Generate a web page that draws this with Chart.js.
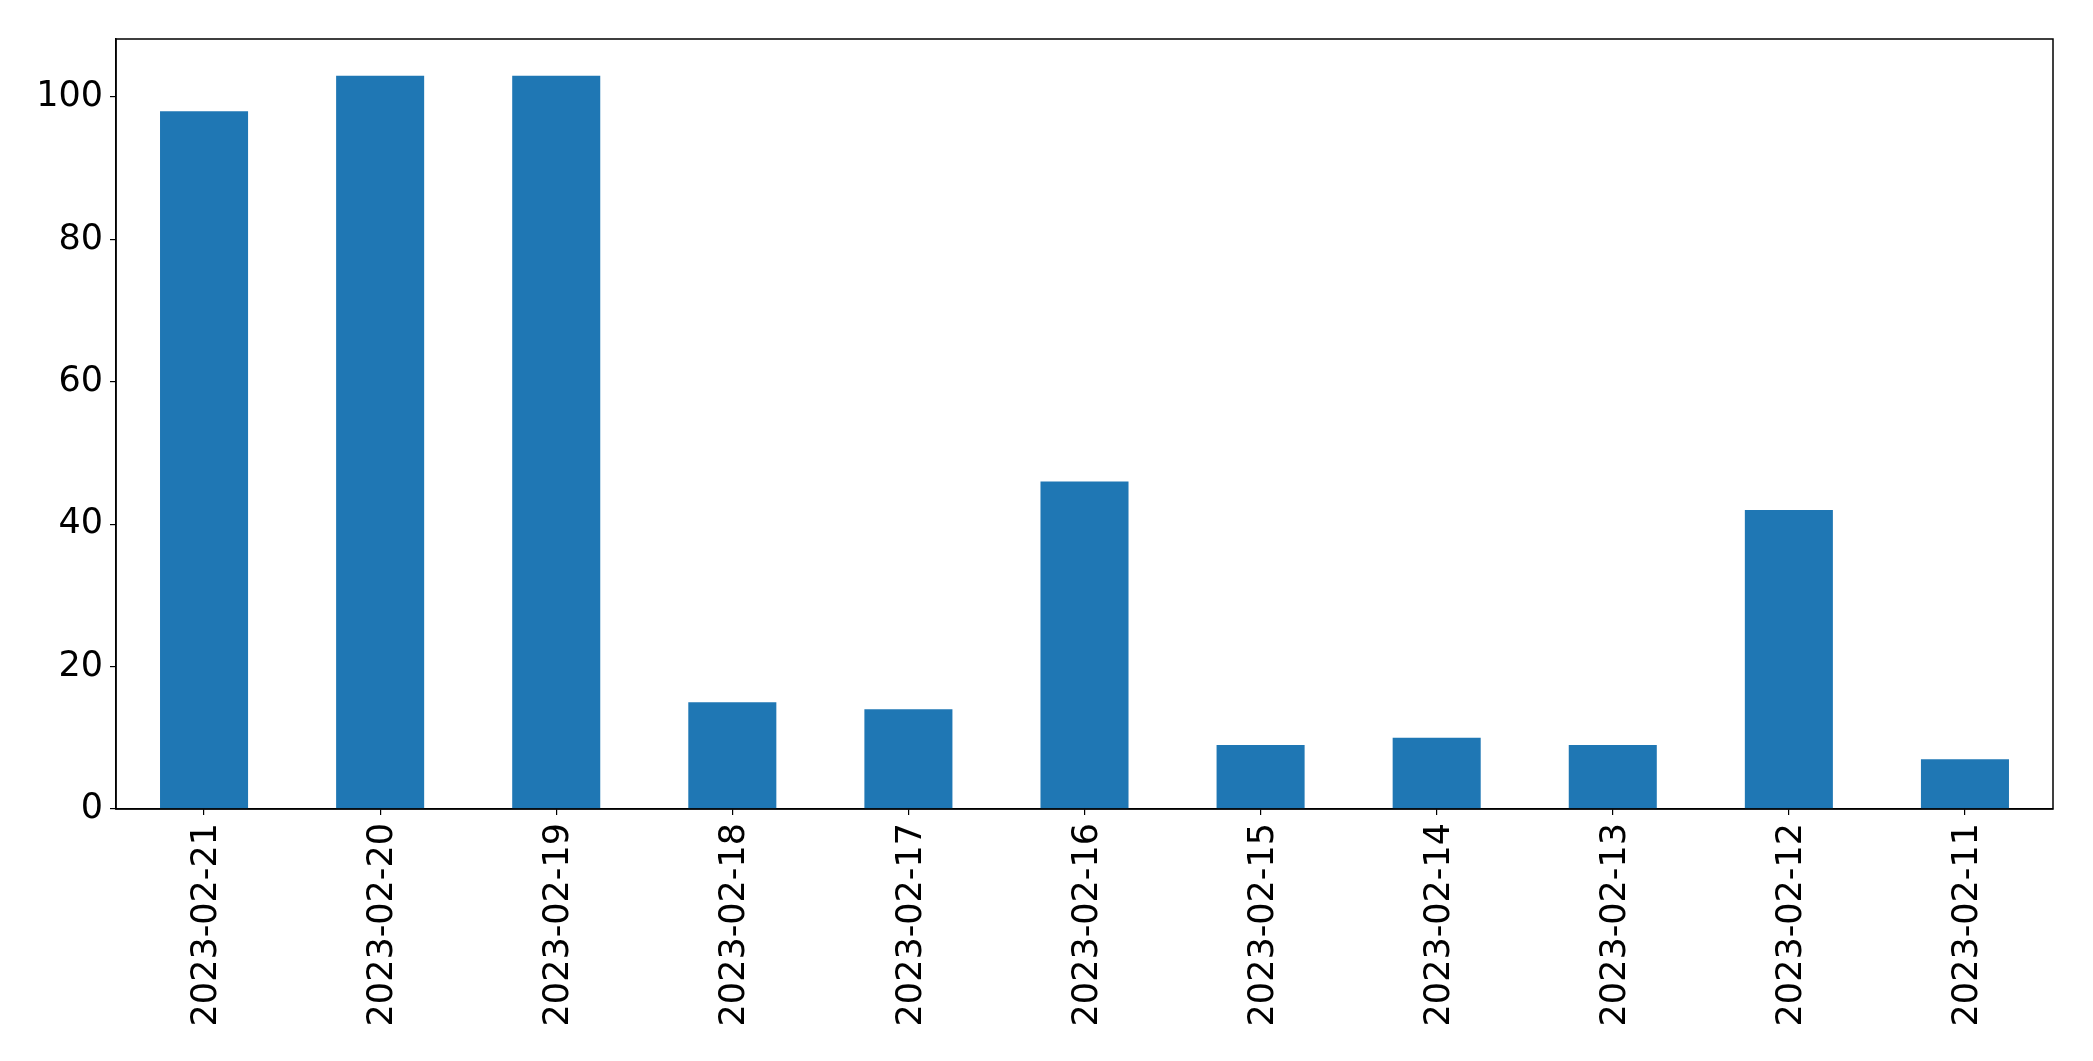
<!DOCTYPE html>
<html>
<head>
<meta charset="utf-8">
<script src="https://cdn.jsdelivr.net/npm/chart.js@4/dist/chart.umd.min.js"></script>
<style>
  html, body { margin: 0; padding: 0; background: #fff; }
  #wrap { width: 2093px; height: 1061px; }
</style>
</head>
<body>
<div id="wrap"><canvas id="barChart" width="2093" height="1061"></canvas></div>
<script>
const dates = ['2023-02-21', '2023-02-20', '2023-02-19', '2023-02-18', '2023-02-17', '2023-02-16',
               '2023-02-15', '2023-02-14', '2023-02-13', '2023-02-12', '2023-02-11'];
const counts = [98, 103, 103, 15, 14, 46, 9, 10, 9, 42, 7];
const yTicks = [0, 20, 40, 60, 80, 100];

// draws the full box around the plot, like matplotlib spines
const frame = {
    id: 'frame',
    afterDraw(chart) {
        const a = chart.chartArea;
        const c = chart.ctx;
        c.save();
        c.strokeStyle = '#000';
        c.lineWidth = 1.5;
        c.strokeRect(a.left, a.top, a.right - a.left, a.bottom - a.top);
        c.restore();
    }
};

const ctx = document.getElementById('barChart').getContext('2d');
new Chart(ctx, {
    type: 'bar',
    data: {
        labels: dates,
        datasets: [{
            data: counts,
            backgroundColor: '#1f77b4',
            borderWidth: 0,
            barPercentage: 0.5,
            categoryPercentage: 1.0
        }]
    },
    options: {
        responsive: false,
        animation: false,
        layout: { padding: { left: 0, top: 39, right: 40, bottom: 0 } },
        plugins: {
            legend: { display: false },
            tooltip: { enabled: false }
        },
        scales: {
            x: {
                offset: true,
                grid: { display: true, offset: false, drawOnChartArea: false, tickLength: 6, color: '#000', lineWidth: 1.2 },
                border: { display: true, color: '#000', width: 1.5 },
                ticks: {
                    color: '#000',
                    font: { family: 'DejaVu Sans', size: 35 },
                    minRotation: 90,
                    maxRotation: 90,
                    padding: 8,
                    labelOffset: 3,
                    autoSkip: false
                },
                afterFit(scale) { scale.height = 252; }
            },
            y: {
                min: 0,
                max: 108.15,
                afterBuildTicks(scale) { scale.ticks = yTicks.map(v => ({ value: v })); },
                grid: { display: true, drawOnChartArea: false, tickLength: 6, color: '#000', lineWidth: 1.2 },
                border: { display: true, color: '#000', width: 1.5 },
                ticks: {
                    color: '#000',
                    font: { family: 'DejaVu Sans', size: 35 },
                    padding: 7
                },
                afterFit(scale) { scale.width = 116; }
            }
        }
    },
    plugins: [frame]
});
</script>
</body>
</html>
